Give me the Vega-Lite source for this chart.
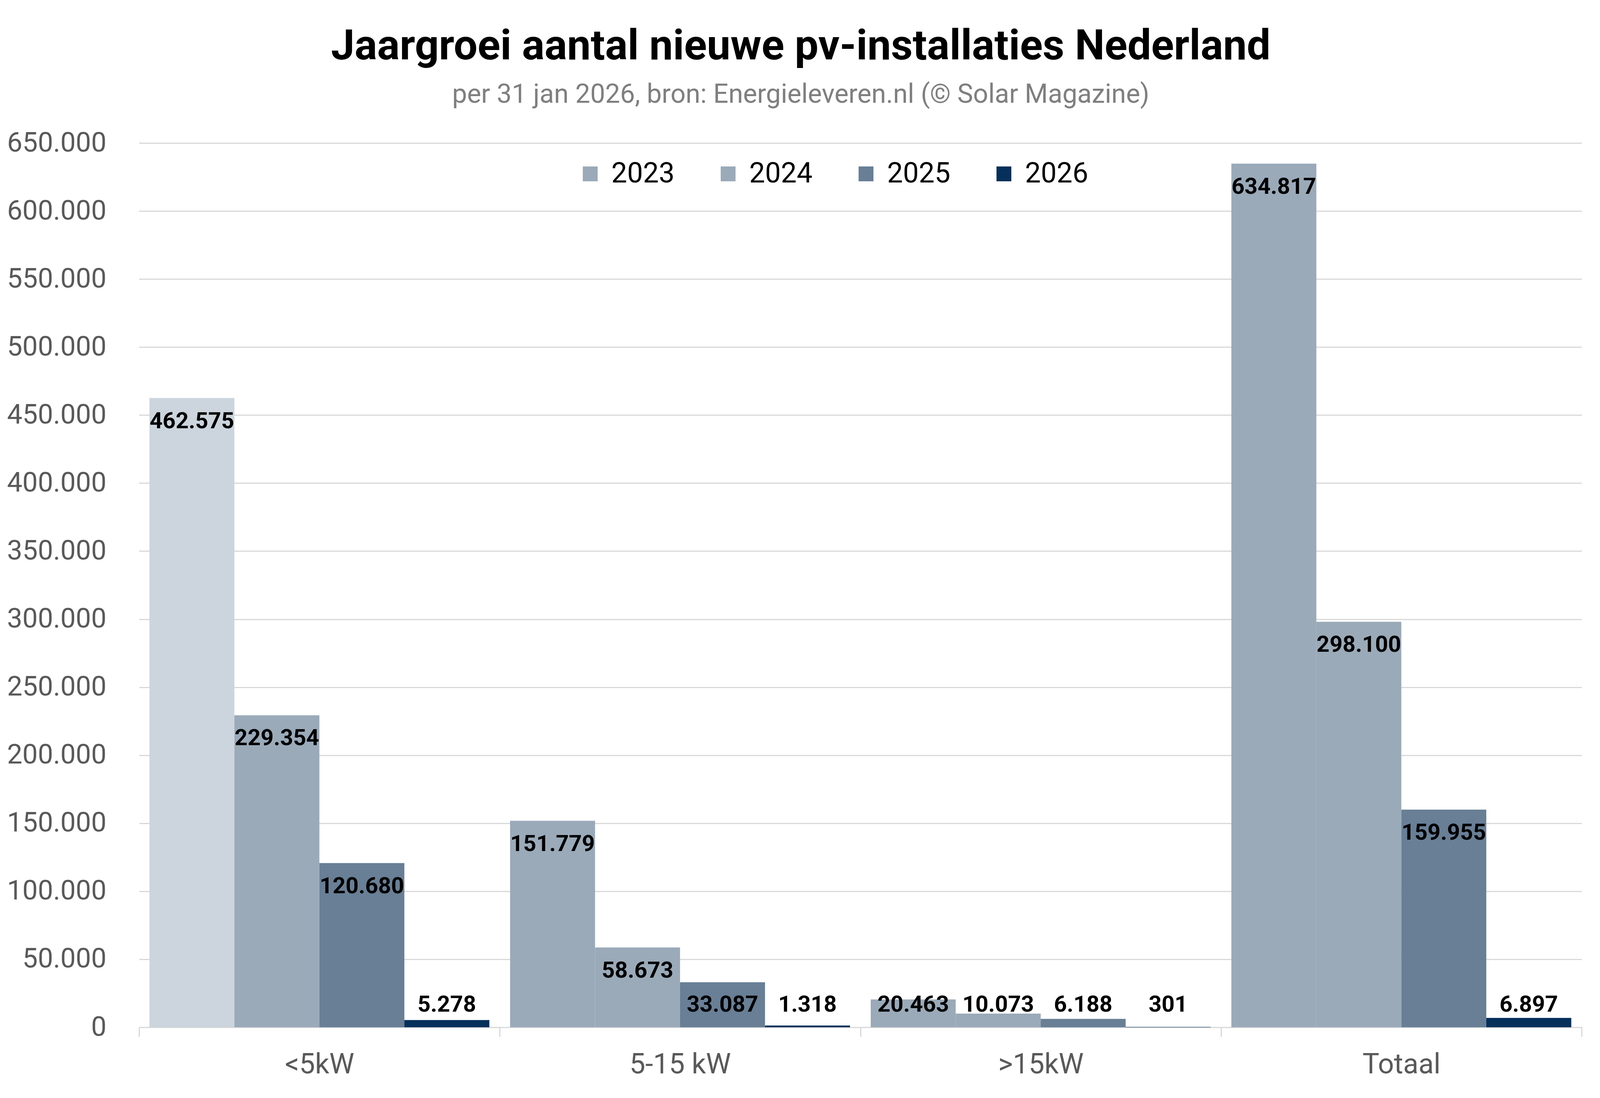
{
  "$schema": "https://vega.github.io/schema/vega-lite/v6.json",
  "width": 3693,
  "height": 2263,
  "padding": {"left": 17, "top": 66, "right": 48, "bottom": 36},
  "background": "white",
  "title": {
    "text": "Jaargroei aantal nieuwe pv-installaties Nederland",
    "subtitle": "per 31 jan 2026, bron: Energieleveren.nl (© Solar Magazine)",
    "font": "Roboto",
    "fontWeight": "bold",
    "fontSize": 108,
    "color": "#000000",
    "subtitleFont": "Roboto",
    "subtitleFontSize": 68,
    "subtitleColor": "#7f7f7f",
    "subtitlePadding": 34,
    "anchor": "middle",
    "frame": "bounds",
    "dx": 16,
    "offset": 53
  },
  "data": {
    "values": [
      {"group": "<5kW", "year": "2023", "value": 462575},
      {"group": "<5kW", "year": "2024", "value": 229354},
      {"group": "<5kW", "year": "2025", "value": 120680},
      {"group": "<5kW", "year": "2026", "value": 5278},
      {"group": "5-15 kW", "year": "2023", "value": 151779},
      {"group": "5-15 kW", "year": "2024", "value": 58673},
      {"group": "5-15 kW", "year": "2025", "value": 33087},
      {"group": "5-15 kW", "year": "2026", "value": 1318},
      {"group": ">15kW", "year": "2023", "value": 20463},
      {"group": ">15kW", "year": "2024", "value": 10073},
      {"group": ">15kW", "year": "2025", "value": 6188},
      {"group": ">15kW", "year": "2026", "value": 301},
      {"group": "Totaal", "year": "2023", "value": 634817},
      {"group": "Totaal", "year": "2024", "value": 298100},
      {"group": "Totaal", "year": "2025", "value": 159955},
      {"group": "Totaal", "year": "2026", "value": 6897}
    ]
  },
  "encoding": {
    "x": {
      "field": "group",
      "type": "nominal",
      "sort": ["<5kW", "5-15 kW", ">15kW", "Totaal"],
      "scale": {"paddingInner": 0, "paddingOuter": 0},
      "axis": {
        "title": null,
        "labelAngle": 0,
        "labelFont": "Roboto",
        "labelFontSize": 72,
        "labelColor": "#595959",
        "labelPadding": 36,
        "labelLimit": 0,
        "domainColor": "#d9d9d9",
        "domainWidth": 3,
        "tickColor": "#d9d9d9",
        "tickWidth": 3,
        "tickSize": 24,
        "tickBand": "extent",
        "grid": false
      }
    },
    "xOffset": {
      "field": "year",
      "type": "nominal",
      "scale": {"paddingInner": 0, "paddingOuter": 0.122}
    }
  },
  "layer": [
    {
      "mark": {"type": "bar"},
      "encoding": {
        "y": {
          "field": "value",
          "type": "quantitative",
          "scale": {"domain": [0, 650000], "nice": false},
          "axis": {
            "title": null,
            "values": [0, 50000, 100000, 150000, 200000, 250000, 300000, 350000, 400000, 450000, 500000, 550000, 600000, 650000],
            "format": ",d",
            "labelFont": "Roboto",
            "labelFontSize": 70,
            "labelColor": "#595959",
            "labelPadding": 84,
            "labelLimit": 0,
            "domain": false,
            "ticks": false,
            "grid": true,
            "gridColor": "#d9d9d9",
            "gridWidth": 3
          }
        },
        "color": {
          "condition": {"test": "datum.group === '<5kW' && datum.year === '2023'", "value": "#ccd5de"},
          "field": "year",
          "type": "nominal",
          "scale": {"domain": ["2023", "2024", "2025", "2026"], "range": ["#9aaab9", "#9aaab9", "#687f96", "#06305a"]},
          "legend": {
            "title": null,
            "orient": "none",
            "legendX": 1119,
            "legendY": 43,
            "direction": "horizontal",
            "columns": 4,
            "columnPadding": 101,
            "symbolType": "square",
            "symbolSize": 1444,
            "symbolStrokeWidth": 0,
            "labelFont": "Roboto",
            "labelFontSize": 72,
            "labelColor": "#000000",
            "labelOffset": 18,
            "labelLimit": 0,
            "padding": 0
          }
        }
      }
    },
    {
      "transform": [{"filter": "datum.value >= 34000"}],
      "mark": {"type": "text", "font": "Roboto", "fontWeight": "bold", "fontSize": 58, "color": "#000000", "baseline": "middle", "dy": 60},
      "encoding": {
        "y": {"field": "value", "type": "quantitative"},
        "text": {"field": "value", "type": "quantitative", "format": ",d"}
      }
    },
    {
      "transform": [{"filter": "datum.value < 34000"}],
      "mark": {"type": "text", "font": "Roboto", "fontWeight": "bold", "fontSize": 58, "color": "#000000", "baseline": "middle", "dy": -57},
      "encoding": {
        "y": {"datum": 0, "type": "quantitative"},
        "text": {"field": "value", "type": "quantitative", "format": ",d"}
      }
    }
  ],
  "config": {
    "view": {"stroke": null},
    "locale": {"number": {"decimal": ",", "thousands": ".", "grouping": [3], "currency": ["€", ""]}}
  }
}
